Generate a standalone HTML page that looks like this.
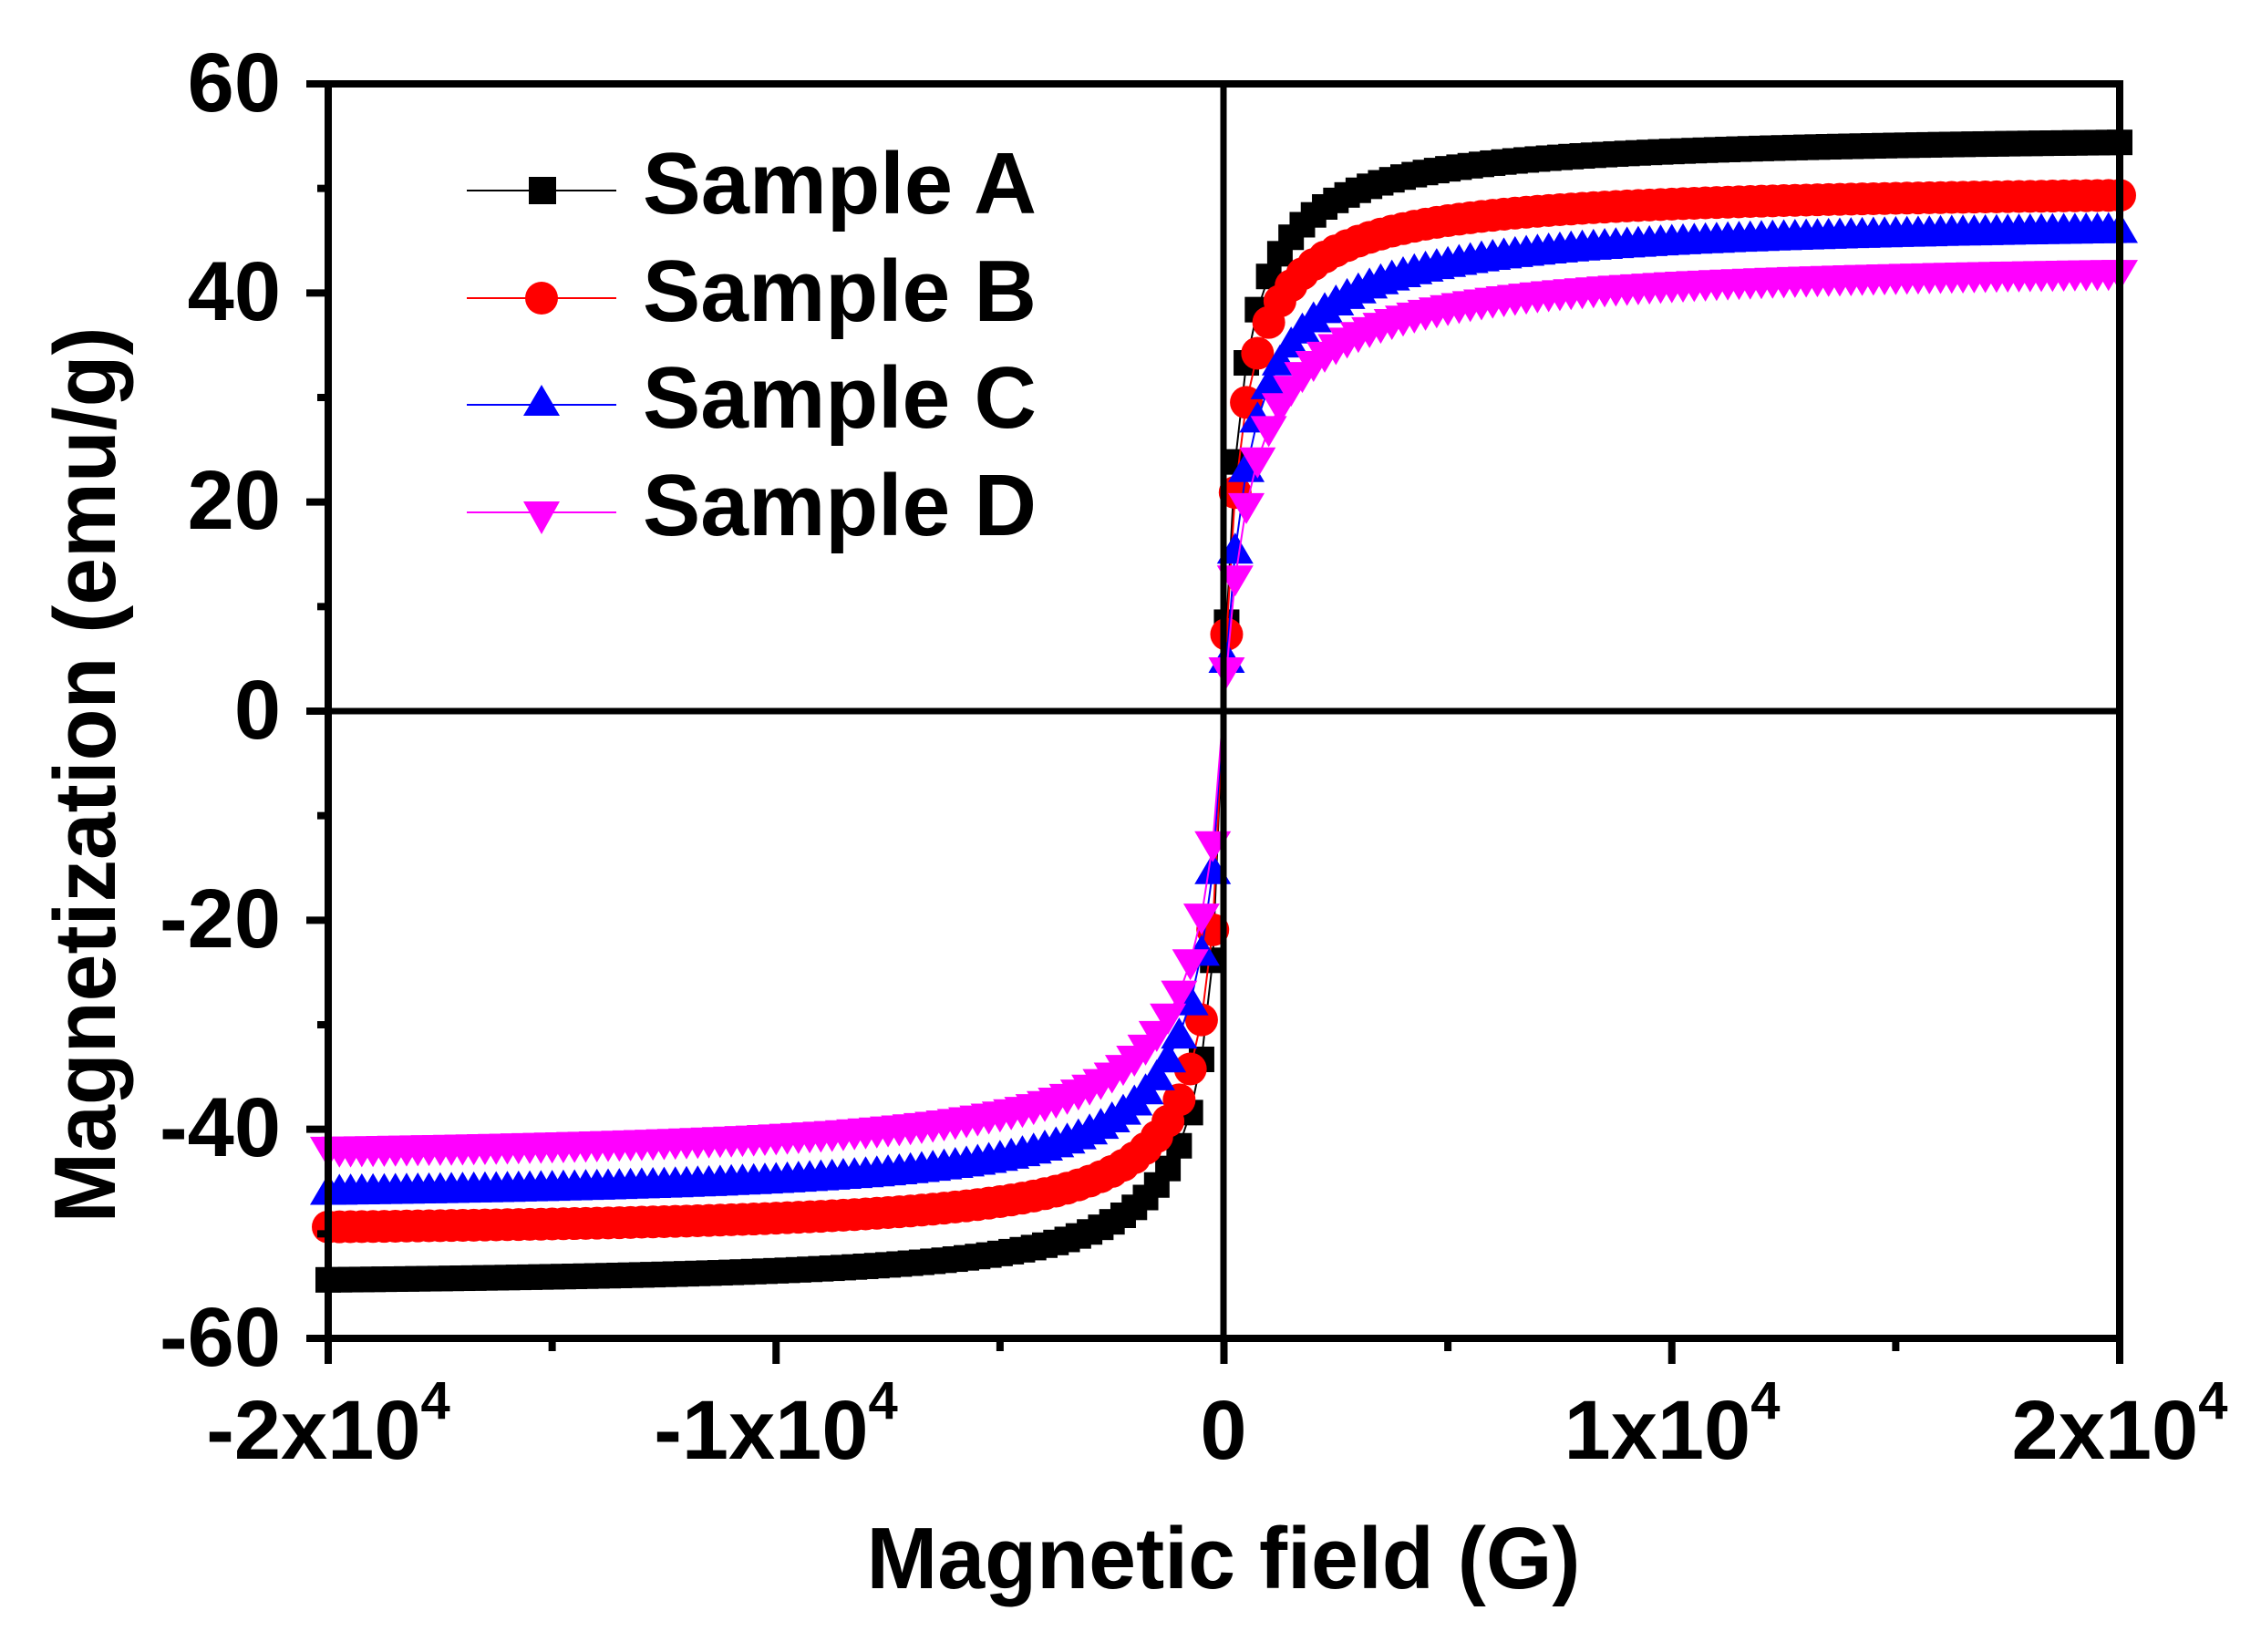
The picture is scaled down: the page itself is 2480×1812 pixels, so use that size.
<!DOCTYPE html>
<html><head><meta charset="utf-8">
<style>
html,body{margin:0;padding:0;background:#fff;}
svg{display:block;}
text{font-family:"Liberation Sans",Arial,sans-serif;font-weight:bold;fill:#000;}
</style></head>
<body>
<svg id="s" width="2480" height="1812" viewBox="0 0 2480 1812" xmlns="http://www.w3.org/2000/svg">
<rect width="2480" height="1812" fill="#fff"/>
<g id="data"></g>
<line x1="1342" y1="92" x2="1342" y2="1468" stroke="#000" stroke-width="7"/>
<line x1="360" y1="780" x2="2325" y2="780" stroke="#000" stroke-width="7"/>
<rect x="360" y="92" width="1965" height="1376" fill="none" stroke="#000" stroke-width="8"/>
<g id="ticks" stroke="#000" stroke-width="8"></g>
<g font-size="92" text-anchor="end">
<text x="308" y="122">60</text>
<text x="308" y="351">40</text>
<text x="308" y="580">20</text>
<text x="308" y="810">0</text>
<text x="308" y="1039">-20</text>
<text x="308" y="1268">-40</text>
<text x="308" y="1498">-60</text>
</g>
<g font-size="92" text-anchor="middle">
<text x="360" y="1600">-2x10<tspan font-size="58" dy="-44">4</tspan></text>
<text x="851" y="1600">-1x10<tspan font-size="58" dy="-44">4</tspan></text>
<text x="1342" y="1600">0</text>
<text x="1834" y="1600">1x10<tspan font-size="58" dy="-44">4</tspan></text>
<text x="2325" y="1600">2x10<tspan font-size="58" dy="-44">4</tspan></text>
</g>
<text x="1342" y="1742" font-size="96" text-anchor="middle" textLength="783" lengthAdjust="spacingAndGlyphs">Magnetic field (G)</text>
<text transform="translate(126,850) rotate(-90)" font-size="96" text-anchor="middle" textLength="983" lengthAdjust="spacingAndGlyphs">Magnetization (emu/g)</text>
<g>
<line x1="512" y1="209" x2="676" y2="209" stroke="#000" stroke-width="2"/>
<rect x="580" y="194" width="30" height="30" fill="#000"/>
<text x="705" y="234" font-size="96" textLength="432" lengthAdjust="spacingAndGlyphs">Sample A</text>
<line x1="512" y1="327" x2="676" y2="327" stroke="#f00" stroke-width="2"/>
<ellipse cx="594" cy="327" rx="18" ry="18" fill="#f00"/>
<text x="705" y="352" font-size="96" textLength="432" lengthAdjust="spacingAndGlyphs">Sample B</text>
<line x1="512" y1="444" x2="676" y2="444" stroke="#00f" stroke-width="2"/>
<polygon points="594,422 614,456 574,456" fill="#00f"/>
<text x="705" y="469" font-size="96" textLength="432" lengthAdjust="spacingAndGlyphs">Sample C</text>
<line x1="512" y1="562" x2="676" y2="562" stroke="#f0f" stroke-width="2"/>
<polygon points="574,550 614,550 594,586" fill="#f0f"/>
<text x="705" y="587" font-size="96" textLength="432" lengthAdjust="spacingAndGlyphs">Sample D</text>
</g>
</svg>
<script>
(function(){
var NS="http://www.w3.org/2000/svg";
var x0=360,x1=2325,y0=92,y1=1468;
function X(v){return x0+(v+20000)/40000*(x1-x0);}
function Y(v){return y0+(60-v)/120*(y1-y0);}
var t=document.getElementById("ticks");
function L(a,b,c,d){var l=document.createElementNS(NS,"line");l.setAttribute("x1",a);l.setAttribute("y1",b);l.setAttribute("x2",c);l.setAttribute("y2",d);t.appendChild(l);}
for(var v=-60;v<=60;v+=10){var y=Y(v);var major=(v%20===0);L(x0,y,x0-(major?24:12),y);}
for(var v=-20000;v<=20000;v+=5000){var x=X(v);var major=(v%10000===0);L(x,y1,x,y1+(major?28:14));}
var series=[
 {Ms:55.3,h:330,c:"#000",m:"sq"},
 {Ms:50.2,h:350,c:"#f00",m:"ci"},
 {Ms:47.2,h:520,c:"#00f",m:"up"},
 {Ms:43.2,h:600,c:"#f0f",m:"dn"}];
var g=document.getElementById("data");
var html="";
series.forEach(function(s){
  var pts=[];
  for(var v=-20000;v<=20000;v+=250){var vv=(v===0)?60:v;pts.push([X(vv),Y(s.Ms*vv/(Math.abs(vv)+s.h))]);}
  html+='<polyline fill="none" stroke="'+s.c+'" stroke-width="2" points="'+pts.map(function(p){return p[0].toFixed(1)+","+p[1].toFixed(1);}).join(" ")+'"/>';
  pts.forEach(function(p){
    var x=p[0],y=p[1];
    if(s.m=="sq")html+='<rect x="'+(x-14)+'" y="'+(y-14)+'" width="28" height="28" fill="'+s.c+'"/>';
    else if(s.m=="ci")html+='<circle cx="'+x+'" cy="'+y+'" r="18" fill="'+s.c+'"/>';
    else if(s.m=="up")html+='<polygon points="'+x+','+(y-20)+' '+(x+20)+','+(y+14)+' '+(x-20)+','+(y+14)+'" fill="'+s.c+'"/>';
    else html+='<polygon points="'+(x-20)+','+(y-14)+' '+(x+20)+','+(y-14)+' '+x+','+(y+20)+'" fill="'+s.c+'"/>';
  });
});
g.innerHTML=html;
})();
</script>
</body></html>
